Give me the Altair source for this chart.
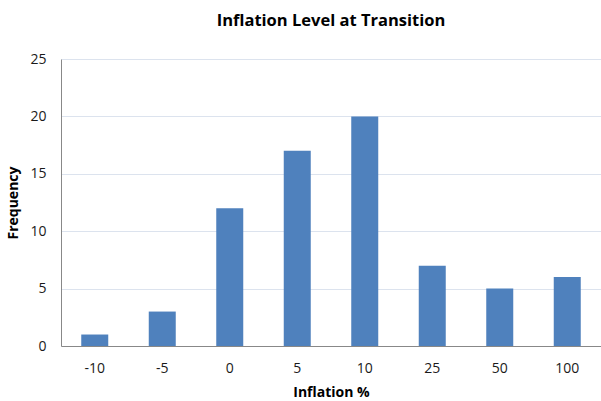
import altair as alt
import pandas as pd

categories = ["-10", "-5", "0", "5", "10", "25", "50", "100"]
frequency = [1, 3, 12, 17, 20, 7, 5, 6]

df = pd.DataFrame({"Inflation": categories, "Frequency": frequency})

FONT = "Open Sans"

chart = alt.Chart(df).mark_bar(color="#4F81BD").encode(
    x=alt.X("Inflation:N", sort=categories, title="Inflation %",
            scale=alt.Scale(paddingInner=0.6, paddingOuter=0.3),
            axis=alt.Axis(labelAngle=0, ticks=False, labelPadding=15, titlePadding=10,
                          domainColor="#888888", grid=False)),
    y=alt.Y("Frequency:Q", title="Frequency",
            scale=alt.Scale(domain=[0, 25]),
            axis=alt.Axis(values=[0, 5, 10, 15, 20, 25], ticks=False, labelPadding=15,
                          titlePadding=9, domainColor="#888888", gridColor="#DCE3EE")),
).properties(
    width=540, height=287,
    title=alt.TitleParams("Inflation Level at Transition", fontSize=16.5, font=FONT,
                          fontWeight="bold", color="#000000", offset=23, anchor="middle"),
    padding={"left": 61, "top": 59, "right": 0, "bottom": 55},
    autosize=alt.AutoSizeParams(type="none"),
).configure_axis(
    labelFont=FONT, titleFont=FONT, labelFontSize=14, titleFontSize=14,
    labelColor="#1a1a1a", titleColor="#000000", titleFontWeight="bold",
).configure_view(stroke=None)

chart.save("out.html", embed_options={"renderer": "svg", "actions": False})
